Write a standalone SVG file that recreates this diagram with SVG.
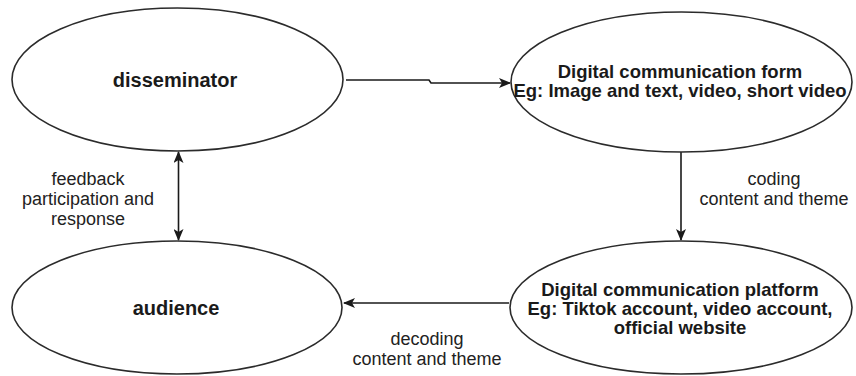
<svg xmlns="http://www.w3.org/2000/svg" width="856" height="376" viewBox="0 0 856 376">
<defs>
<style>
.node{fill:#ffffff;stroke:#2b2b2b;stroke-width:1.6}
.edge{fill:none;stroke:#1a1a1a;stroke-width:1.6}
.bt{font-family:"Liberation Sans",Arial,sans-serif;font-weight:bold;fill:#1a1a1a;text-anchor:middle}
.lt{font-family:"Liberation Sans",Arial,sans-serif;font-size:18px;fill:#222;text-anchor:middle}
</style>
<marker id="ah" viewBox="0 0 12 10" refX="11" refY="5" markerWidth="12" markerHeight="10" markerUnits="userSpaceOnUse" orient="auto-start-reverse">
<path d="M0,0 L12,5 L0,10 L3,5 Z" fill="#1a1a1a"/>
</marker>
</defs>
<rect width="856" height="376" fill="#ffffff"/>
<g id="connectors">
<path class="edge" d="M346,80 L429,80 L431,83 L510,83" marker-end="url(#ah)"/>
<path class="edge" d="M681,152 L681,240" marker-end="url(#ah)"/>
<path class="edge" d="M509,303 L344,303" marker-end="url(#ah)"/>
<path class="edge" d="M178.5,152 L178.5,240" marker-start="url(#ah)" marker-end="url(#ah)"/>
<text class="lt" x="88" y="185">feedback</text>
<text class="lt" x="88" y="205">participation and</text>
<text class="lt" x="88" y="225">response</text>
<text class="lt" x="774" y="185">coding</text>
<text class="lt" x="774" y="205">content and theme</text>
<text class="lt" x="427" y="345">decoding</text>
<text class="lt" x="427" y="365">content and theme</text>
</g>
<g id="disseminator">
<ellipse class="node" cx="177.5" cy="79.5" rx="165.5" ry="71.5"/>
<text class="bt" x="175" y="87" font-size="20">disseminator</text>
</g>
<g id="form">
<ellipse class="node" cx="681.5" cy="82" rx="170.5" ry="70"/>
<text class="bt" x="680" y="78" font-size="18.5">Digital communication form</text>
<text class="bt" x="680" y="97" font-size="18.5">Eg: Image and text, video, short video</text>
</g>
<g id="platform">
<ellipse class="node" cx="681" cy="307.5" rx="171" ry="66.5"/>
<text class="bt" x="680" y="296" font-size="18.5">Digital communication platform</text>
<text class="bt" x="680" y="315" font-size="18.5">Eg: Tiktok account, video account,</text>
<text class="bt" x="680" y="334" font-size="18.5">official website</text>
</g>
<g id="audience">
<ellipse class="node" cx="177" cy="307.5" rx="165" ry="66.5"/>
<text class="bt" x="176" y="315" font-size="20">audience</text>
</g>
</svg>
